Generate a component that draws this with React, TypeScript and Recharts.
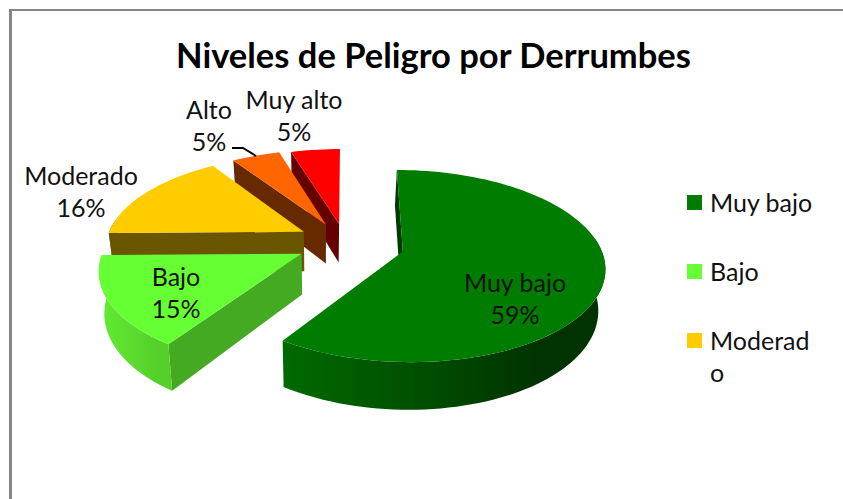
import { PieChart, Pie, Legend } from 'recharts';

const categories = ['Muy bajo', 'Bajo', 'Moderado', 'Alto', 'Muy alto'];
const shares = [59.4, 15.4, 15.9, 4.6, 4.7];
const topColors = ['#007d00', '#66ff33', '#ffcc00', '#ff6600', '#ff0000'];
const cutColors = ['#003a00', '#44aa22', '#6a5500', '#662900', '#660000'];
const skirtStops = [
  ['#006a00', '#004d00', '#003300'],
  ['#60ec30', '#5cdc2e', '#55d02a'],
  ['#6a5500', '#6a5500', '#6a5500'],
  ['#662900', '#662900', '#662900'],
  ['#660000', '#660000', '#660000'],
];
const legendCount = 3;

// per slice fine tuning of the drawn wedge around its apex: [shiftX, shiftY, scaleX]
const wedgeTweaks = [
  [5, 0, 0.975],
  [-6, -2, 0.97],
  [-5, -3, 0.98],
  [-5, -1, 0.985],
  [-5, 0, 0.98],
];

// label anchors, centre of the first text line
const labelAnchors: Record<string, [number, number]> = {
  'Muy bajo': [515, 282],
  Bajo: [176, 276],
  Moderado: [81, 175],
  Alto: [209, 109],
  'Muy alto': [294, 99],
};

const FONT = 'Lato, sans-serif';
const LABEL_SIZE = 25;
const TILT = 0.455;
const PERSPECTIVE = 0.15;
const EXPLODE = 0.24;
const DEPTH = 40;
const VANISH_X = 320;

// drawn back to front, so the order runs counter-clockwise from the top
const pieData = categories
  .map((name, i) => ({ name, value: shares[i], fill: topColors[i], index: i }))
  .reverse();

const rad = (d: number) => (d * Math.PI) / 180;

function Wedge(props: any) {
  const { cx, cy, outerRadius: R, startAngle, endAngle, payload } = props;
  const lo = Math.min(startAngle, endAngle);
  const hi = Math.max(startAngle, endAngle);
  const i = (payload && payload.index !== undefined ? payload.index : props.index) as number;
  const mid = (lo + hi) / 2;
  const ox = EXPLODE * Math.cos(rad(mid));
  const oy = -EXPLODE * Math.sin(rad(mid));
  const [shiftX, shiftY, scaleX] = wedgeTweaks[i];

  const raw = (u: number, v: number) => {
    const f = 1 / (1 - PERSPECTIVE * (oy + v));
    return [cx + R * (ox + u) * f, cy + R * TILT * (oy + v) * f, f];
  };
  const apex = raw(0, 0);
  const top = (u: number, v: number) => {
    const [x, y, f] = raw(u, v);
    return [apex[0] + (x - apex[0]) * scaleX + shiftX, y + shiftY, f];
  };
  const low = (u: number, v: number) => {
    const [x, y, f] = top(u, v);
    return [VANISH_X + (x - VANISH_X) * 0.975, y + DEPTH * f];
  };
  const rim = (a: number) => [Math.cos(rad(a)), -Math.sin(rad(a))] as const;
  const arc = (from: number, to: number, fn: (u: number, v: number) => number[]) => {
    const pts: number[][] = [];
    const n = Math.max(2, Math.ceil(Math.abs(to - from) / 2));
    for (let k = 0; k <= n; k++) {
      const [u, v] = rim(from + ((to - from) * k) / n);
      pts.push(fn(u, v));
    }
    return pts;
  };
  const d = (pts: number[][]) => 'M' + pts.map((p) => `${p[0].toFixed(2)},${p[1].toFixed(2)}`).join('L') + 'Z';

  const faces: number[][][] = [];
  if (-Math.cos(rad(hi)) >= -0.01) {
    const [u, v] = rim(hi);
    faces.push([top(0, 0), top(u, v), low(u, v), low(0, 0)]);
  }
  if (Math.cos(rad(lo)) > 0.01) {
    const [u, v] = rim(lo);
    faces.push([top(0, 0), top(u, v), low(u, v), low(0, 0)]);
  }

  const sFrom = Math.max(lo, 172);
  const sTo = Math.min(hi, 368);
  const skirt = sTo > sFrom ? [...arc(sFrom, sTo, top), ...arc(sTo, sFrom, low)] : null;
  const gradId = `skirt-${i}`;
  const xs = skirt ? skirt.map((p) => p[0]) : [0, 1];

  return (
    <g>
      <defs>
        <linearGradient
          id={gradId}
          gradientUnits="userSpaceOnUse"
          x1={Math.min(...xs)}
          x2={Math.max(...xs)}
          y1={0}
          y2={0}
        >
          <stop offset="0%" stopColor={skirtStops[i][0]} />
          <stop offset="45%" stopColor={skirtStops[i][1]} />
          <stop offset="78%" stopColor={skirtStops[i][2]} />
          <stop offset="100%" stopColor={skirtStops[i][2]} />
        </linearGradient>
      </defs>
      {faces.map((f, k) => (
        <path key={k} d={d(f)} fill={cutColors[i]} />
      ))}
      {skirt && <path d={d(skirt)} fill={`url(#${gradId})`} />}
      <path d={d([top(0, 0), ...arc(lo, hi, top)])} fill={topColors[i]} />
    </g>
  );
}

function SliceLabel(props: any) {
  const name = props.name ?? props.payload?.name;
  const [x, y] = labelAnchors[name];
  return (
    <g>
      {name === 'Alto' && <path d="M232,148 L243,148 L256,156" fill="none" stroke="#000" strokeWidth={2} />}
      <text x={x} y={y} textAnchor="middle" fontFamily={FONT} fontSize={LABEL_SIZE} fill="#111" dominantBaseline="central">
        {name}
      </text>
      <text x={x} y={y + 32} textAnchor="middle" fontFamily={FONT} fontSize={LABEL_SIZE} fill="#111" dominantBaseline="central">
        {Math.round(props.percent * 100)}%
      </text>
    </g>
  );
}

function LegendRows(props: any) {
  const rows = [...(props.payload || [])].reverse().slice(0, legendCount);
  return (
    <div style={{ fontFamily: FONT, fontSize: LABEL_SIZE, color: '#111', lineHeight: '32px' }}>
      {rows.map((r: any) => (
        <div key={r.value} style={{ display: 'flex', height: 69 }}>
          <span style={{ width: 15, height: 15, marginTop: 9, marginRight: 8, flex: 'none', background: r.color }} />
          <span style={{ width: 104, overflowWrap: 'anywhere' }}>{r.value}</span>
        </div>
      ))}
    </div>
  );
}

export default function App() {
  return (
    <div style={{ position: 'absolute', left: 0, top: 0, width: 843, height: 499, background: '#fff', overflow: 'hidden' }}>
      <div style={{ position: 'absolute', left: 9, top: 9, width: 834, height: 490, borderTop: '2px solid #868686', borderLeft: '3px solid #868686' }} />
      <div style={{ position: 'absolute', left: 0, top: 0 }}>
        <PieChart width={843} height={499} margin={{ top: 0, right: 0, bottom: 0, left: 0 }}>
          <text x={433.5} y={68} textAnchor="middle" fontFamily={FONT} fontSize={34.5} fontWeight={700} fill="#000">
            Niveles de Peligro por Derrumbes
          </text>
          <Pie
            data={pieData}
            dataKey="value"
            nameKey="name"
            cx={351}
            cy={245}
            innerRadius={0}
            outerRadius={202}
            startAngle={90}
            endAngle={450}
            stroke="none"
            isAnimationActive={false}
            shape={Wedge}
            label={SliceLabel}
            labelLine={false}
          />
          <Legend
            layout="vertical"
            align="right"
            verticalAlign="top"
            itemSorter={null}
            content={LegendRows}
            wrapperStyle={{ left: 687, top: 186, width: 130 }}
          />
        </PieChart>
      </div>
    </div>
  );
}
